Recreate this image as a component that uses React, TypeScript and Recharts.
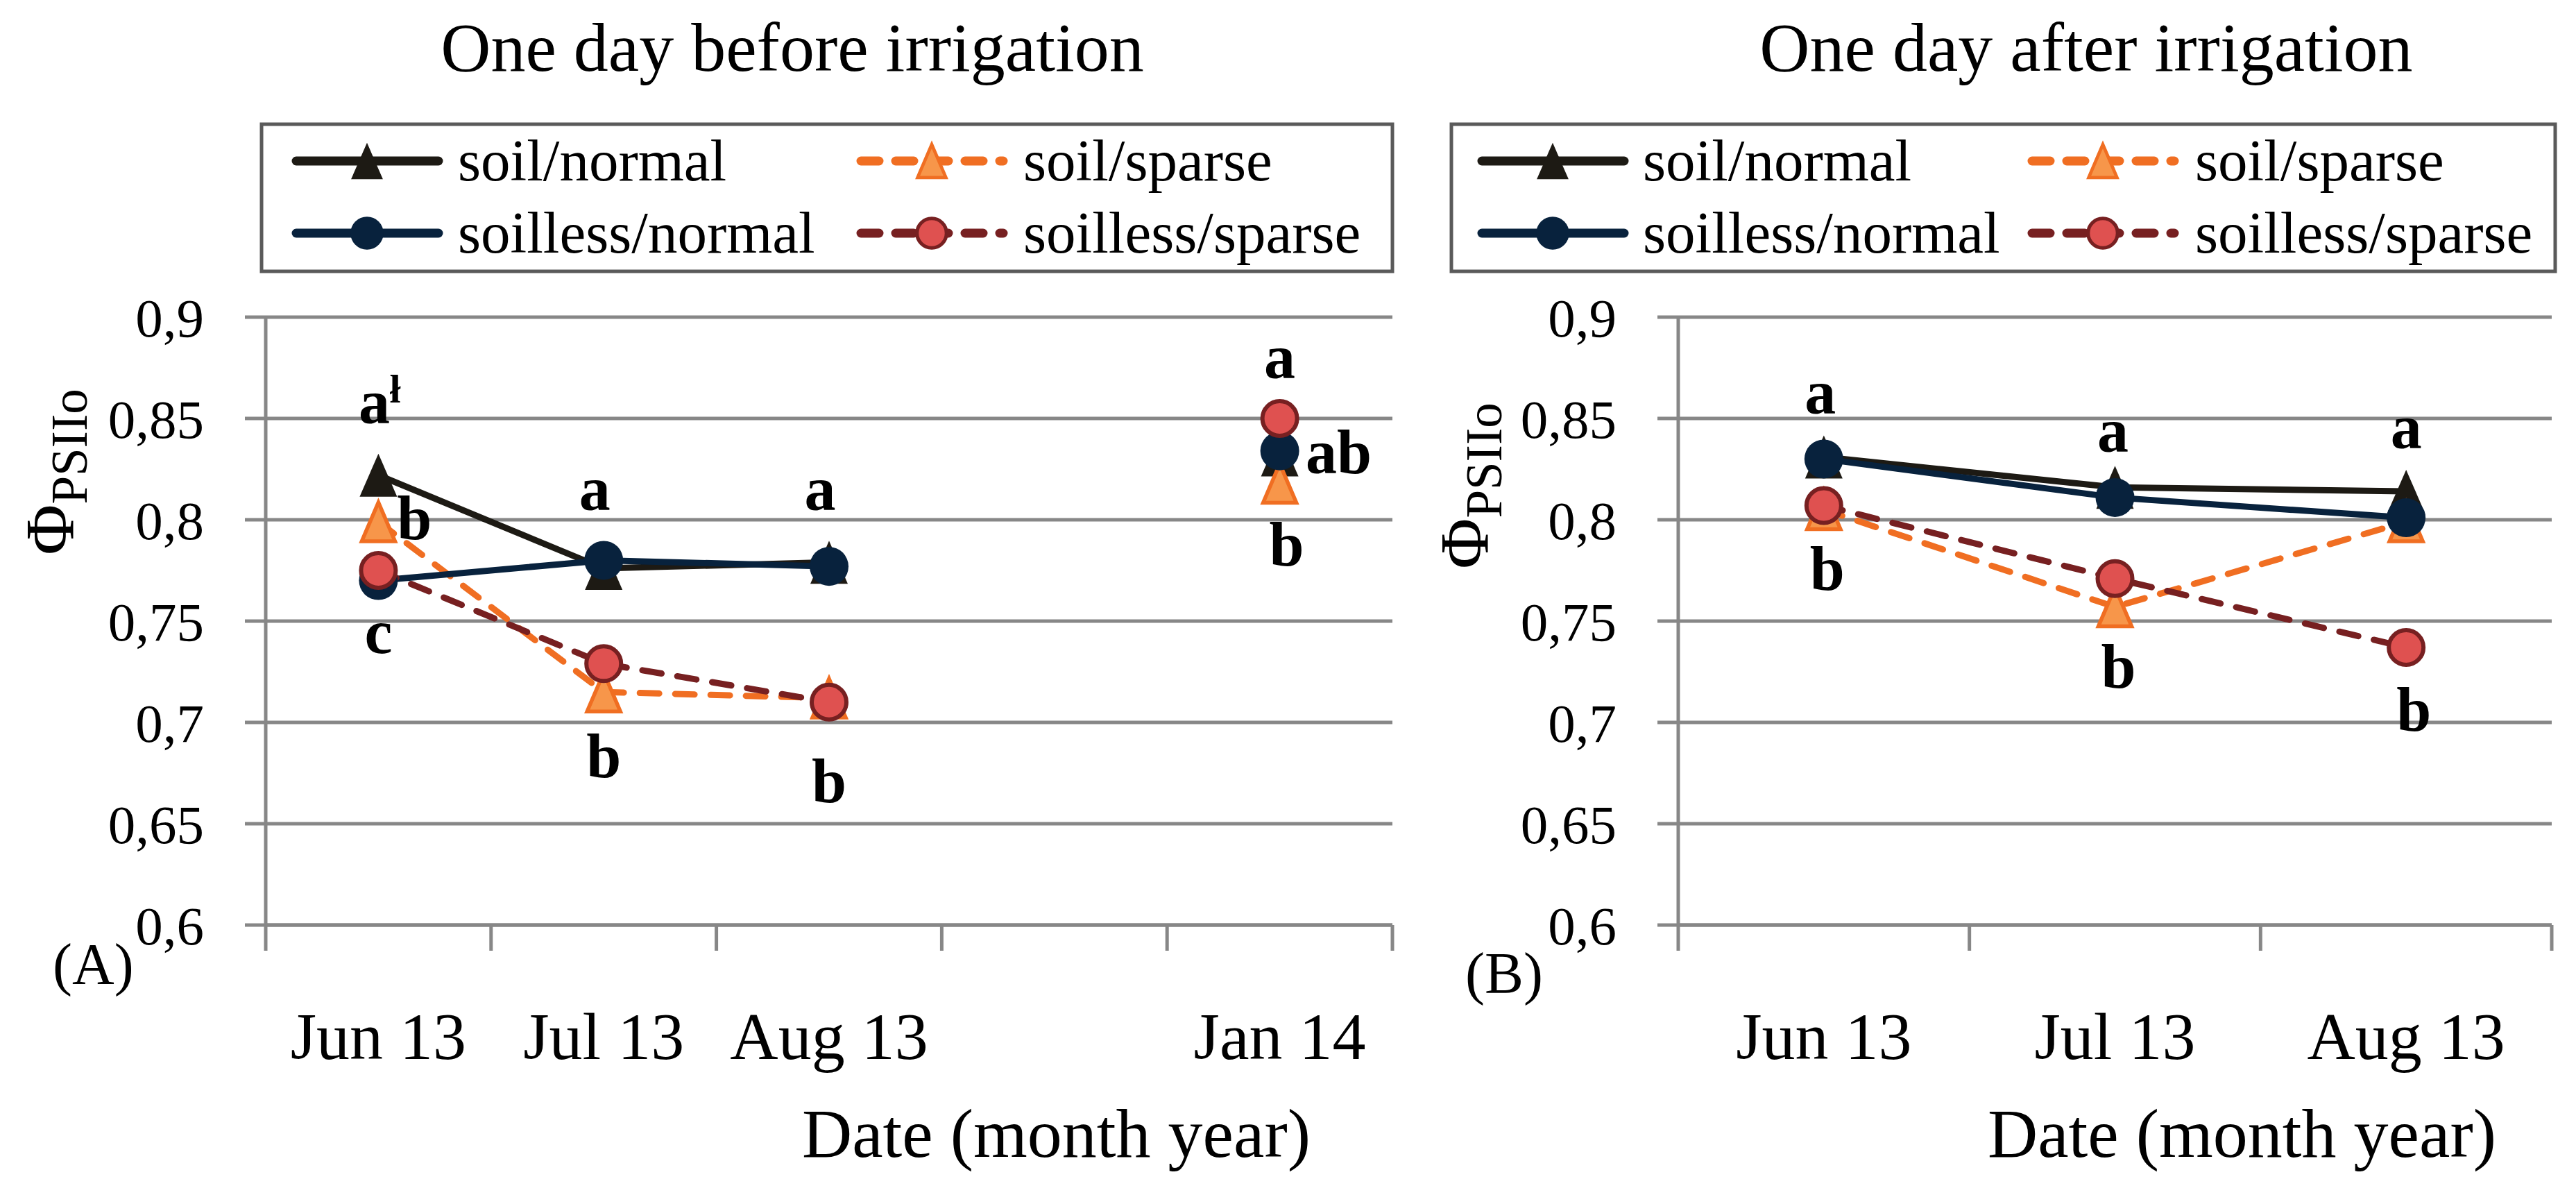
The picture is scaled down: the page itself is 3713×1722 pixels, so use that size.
import React from "react";
import { LineChart, Line, XAxis, YAxis, CartesianGrid, LabelList } from "recharts";

const FONT = '"Liberation Serif", "Times New Roman", serif';

// date axis; the blank slot keeps the gap before Jan 14
const beforeDates = ["Jun 13", "Jul 13", "Aug 13", "", "Jan 14"];
const afterDates = ["Jun 13", "Jul 13", "Aug 13"];

const beforeSoilNormal = [0.822, 0.776, 0.779, null, 0.832];
const beforeSoilSparse = [0.799, 0.715, 0.712, null, 0.818];
const beforeSoillessNormal = [0.77, 0.78, 0.777, null, 0.834];
const beforeSoillessSparse = [0.775, 0.729, 0.71, null, 0.85];

const afterSoilNormal = [0.831, 0.816, 0.814];
const afterSoilSparse = [0.805, 0.757, 0.799];
const afterSoillessNormal = [0.83, 0.811, 0.801];
const afterSoillessSparse = [0.807, 0.771, 0.737];

const yTicks = [0.6, 0.65, 0.7, 0.75, 0.8, 0.85, 0.9];

// significance letters ("|" splits off the footnote mark)
const beforeLetters = {
  soilNormal: ["a|ł", "a", "a", null, null],
  soilSparse: ["b", "b", "b", null, "b"],
  soillessNormal: ["c", null, null, null, "ab"],
  soillessSparse: [null, null, null, null, "a"],
};
const afterLetters = {
  soilNormal: ["a", "a", "a"],
  soilSparse: ["b", "b", null],
  soillessNormal: [null, null, null],
  soillessSparse: [null, null, "b"],
};

// where each letter sits relative to its point: [dx, baseline dy]
const beforeLetterPos = {
  soilNormal: [[-6, -75], [-13, -84], [-13, -75], null, null],
  soilSparse: [[52, 25], [0, 123], [0, 150], null, [10, 119]],
  soillessNormal: [[0, 104], null, null, null, [85, 32]],
  soillessSparse: [null, null, null, null, [0, -58]],
};
const afterLetterPos = {
  soilNormal: [[-5, -62], [-3, -51], [0, -62]],
  soilSparse: [[5, 116], [5, 116], null],
  soillessNormal: [null, null, null],
  soillessSparse: [null, null, [11, 120]],
};

type Key = "soilNormal" | "soilSparse" | "soillessNormal" | "soillessSparse";

const series: {
  key: Key;
  name: string;
  color: string;
  fill: string;
  dashed: boolean;
  shape: "triangle" | "circle";
}[] = [
  { key: "soilNormal", name: "soil/normal", color: "#1d1a14", fill: "#1d1a14", dashed: false, shape: "triangle" },
  { key: "soilSparse", name: "soil/sparse", color: "#f06e22", fill: "#f7964a", dashed: true, shape: "triangle" },
  { key: "soillessNormal", name: "soilless/normal", color: "#08223d", fill: "#08223d", dashed: false, shape: "circle" },
  { key: "soillessSparse", name: "soilless/sparse", color: "#772021", fill: "#df5150", dashed: true, shape: "circle" },
];

const H = 1722;
const PLOT_TOP = 457;
const PLOT_BOTTOM = 1333;
const GRID = "#878787";
const BORDER = "#5a5a5a";

function Marker({ cx, cy, s, k = 1 }: any) {
  if (cx == null || cy == null) return <g />;
  const outlined = s.dashed;
  if (s.shape === "triangle") {
    const w = (outlined ? 24 : 27) * k;
    const h = (outlined ? 28 : 31) * k;
    return (
      <polygon
        points={`${cx},${cy - h} ${cx + w},${cy + h} ${cx - w},${cy + h}`}
        fill={s.fill}
        stroke={outlined ? s.color : "none"}
        strokeWidth={outlined ? 5.5 * k : 0}
      />
    );
  }
  return (
    <circle
      cx={cx}
      cy={cy}
      r={(outlined ? 25 : 28) * k}
      fill={s.fill}
      stroke={outlined ? s.color : "none"}
      strokeWidth={outlined ? 6 * k : 0}
    />
  );
}

function Letter(props: any) {
  const { texts, offsets } = props;
  const vb = props.viewBox || {};
  const px = props.x ?? vb.x;
  const py = props.y ?? vb.y;
  const idx = props.index ?? (props.payload ? Math.floor(props.payload.x) : -1);
  const text = texts[idx];
  const off = offsets[idx];
  if (text == null || off == null || px == null || py == null) return null;
  const [main, sup] = text.split("|");
  const tx = px + off[0];
  const ty = py + off[1];
  return (
    <g>
      <text x={tx} y={ty} textAnchor="middle" fontSize={90} fontWeight="bold" fontFamily={FONT} fill="#000">
        {main}
      </text>
      {sup && (
        <text x={tx + 22} y={ty - 30} fontSize={58} fontWeight="bold" fontFamily={FONT} fill="#000">
          {sup}
        </text>
      )}
    </g>
  );
}

function DateTick(props: any) {
  const { x, index, labels, band } = props;
  if (index >= labels.length) return <g />;
  return (
    <text x={x + band / 2} y={PLOT_BOTTOM + 193} textAnchor="middle" fontSize={96} fontFamily={FONT} fill="#000">
      {labels[index]}
    </text>
  );
}

function Panel({ layout, title, tag, dates, values, letters, letterPos }: any) {
  const n = dates.length;
  const rows = dates.map((d: string, i: number) => ({
    x: i + 0.5,
    date: d,
    soilNormal: values.soilNormal[i],
    soilSparse: values.soilSparse[i],
    soillessNormal: values.soillessNormal[i],
    soillessSparse: values.soillessSparse[i],
  }));
  const bounds = Array.from({ length: n + 1 }, (_, i) => i);
  const band = (layout.plotRight - layout.plotLeft) / n;
  const rowY = [232, 336];

  return (
    <div style={{ position: "absolute", left: layout.left, top: 0, width: layout.width, height: H }}>
      <svg
        width={layout.width}
        height={H}
        style={{ position: "absolute", left: 0, top: 0, overflow: "visible" }}
      >
        <text x={layout.titleX} y={102} textAnchor="middle" fontSize={100} fontFamily={FONT} fill="#000">
          {title}
        </text>
        <rect
          x={layout.legendX}
          y={179}
          width={layout.legendW}
          height={212}
          fill="#fff"
          stroke={BORDER}
          strokeWidth={5}
        />
        {series.map((s, i) => {
          const col = i % 2 === 0 ? layout.col1 : layout.col2;
          const txt = i % 2 === 0 ? layout.text1 : layout.text2;
          const ly = rowY[Math.floor(i / 2)];
          const x0 = layout.legendX + col;
          return (
            <g key={s.key}>
              <line
                x1={x0 + 6}
                x2={x0 + 211}
                y1={ly}
                y2={ly}
                stroke={s.color}
                strokeWidth={13}
                strokeLinecap="round"
                strokeDasharray={s.dashed ? "26 24" : undefined}
              />
              <Marker cx={x0 + 108} cy={ly} s={s} k={0.85} />
              <text x={layout.legendX + txt} y={ly + 28} fontSize={85} fontFamily={FONT} fill="#000">
                {s.name}
              </text>
            </g>
          );
        })}
        <text
          x={layout.phiX}
          y={layout.phiY}
          textAnchor="middle"
          transform={`rotate(-90, ${layout.phiX}, ${layout.phiY})`}
          fontFamily={FONT}
          fill="#000"
        >
          <tspan fontSize={100}>Φ</tspan>
          <tspan fontSize={73} dy={20}>PSIIo</tspan>
        </text>
        <text x={layout.tagX} y={layout.tagY} fontSize={84} fontFamily={FONT} fill="#000">
          {tag}
        </text>
        <text x={layout.axisTitleX} y={1667} textAnchor="end" fontSize={100} fontFamily={FONT} fill="#000">
          Date (month year)
        </text>
      </svg>

      <div style={{ position: "absolute", left: 0, top: 0 }}>
        <LineChart
          width={layout.width}
          height={H}
          data={rows}
          margin={{ top: PLOT_TOP, right: layout.width - layout.plotRight, bottom: 0, left: 0 }}
        >
          <CartesianGrid vertical={false} stroke={GRID} strokeWidth={5} />
          <XAxis
            dataKey="x"
            type="number"
            domain={[0, n]}
            ticks={bounds}
            interval={0}
            height={H - PLOT_BOTTOM}
            tickSize={37}
            tickLine={{ stroke: GRID, strokeWidth: 5 }}
            axisLine={{ stroke: GRID, strokeWidth: 5 }}
            tick={(p: any) => <DateTick {...p} labels={dates} band={band} />}
          />
          <XAxis
            xAxisId="top"
            orientation="top"
            dataKey="x"
            type="number"
            domain={[0, n]}
            height={0}
            tick={false}
            tickLine={false}
            axisLine={{ stroke: BORDER, strokeWidth: 5 }}
          />
          <YAxis
            type="number"
            domain={[0.6, 0.9]}
            ticks={yTicks}
            interval={0}
            width={layout.plotLeft}
            tickSize={30}
            tickMargin={59}
            tickFormatter={(v: number) => String(v).replace(".", ",")}
            tick={{ fill: "#000", fontSize: 79, fontFamily: FONT }}
            tickLine={{ stroke: GRID, strokeWidth: 5 }}
            axisLine={{ stroke: GRID, strokeWidth: 5 }}
          />
          <YAxis
            yAxisId="border"
            orientation="right"
            type="number"
            domain={[0.6, 0.9]}
            width={0}
            tick={false}
            tickLine={false}
            axisLine={{ stroke: BORDER, strokeWidth: 5 }}
          />
          {series.map((s) => (
            <Line
              key={s.key}
              dataKey={s.key}
              name={s.name}
              type="linear"
              stroke={s.color}
              strokeWidth={9}
              strokeDasharray={s.dashed ? "28 23" : undefined}
              strokeLinecap={s.dashed ? "round" : "butt"}
              connectNulls={false}
              isAnimationActive={false}
              activeDot={false}
              dot={(p: any) => <Marker key={`${s.key}-${p.index}`} cx={p.cx} cy={p.cy} s={s} />}
            >
              <LabelList
                dataKey={s.key}
                content={(p: any) => <Letter {...p} texts={letters[s.key]} offsets={letterPos[s.key]} />}
              />
            </Line>
          ))}
        </LineChart>
      </div>
    </div>
  );
}

const beforeLayout = {
  left: 0, width: 2050, plotLeft: 383, plotRight: 2007, titleX: 1142,
  legendX: 377, legendW: 1630, col1: 44, text1: 283, col2: 858, text2: 1098,
  phiX: 105, phiY: 680, tagX: 76, tagY: 1418, axisTitleX: 1889,
};
const afterLayout = {
  left: 2050, width: 1663, plotLeft: 369, plotRight: 1628, titleX: 957,
  legendX: 42, legendW: 1591, col1: 38, text1: 276, col2: 831, text2: 1072,
  phiX: 94, phiY: 700, tagX: 62, tagY: 1431, axisTitleX: 1548,
};

export default function App() {
  return (
    <div style={{ position: "absolute", left: 0, top: 0, width: 3713, height: H, background: "#fff" }}>
      <Panel
        layout={beforeLayout}
        title="One day before irrigation"
        tag="(A)"
        dates={beforeDates}
        values={{
          soilNormal: beforeSoilNormal,
          soilSparse: beforeSoilSparse,
          soillessNormal: beforeSoillessNormal,
          soillessSparse: beforeSoillessSparse,
        }}
        letters={beforeLetters}
        letterPos={beforeLetterPos}
      />
      <Panel
        layout={afterLayout}
        title="One day after irrigation"
        tag="(B)"
        dates={afterDates}
        values={{
          soilNormal: afterSoilNormal,
          soilSparse: afterSoilSparse,
          soillessNormal: afterSoillessNormal,
          soillessSparse: afterSoillessSparse,
        }}
        letters={afterLetters}
        letterPos={afterLetterPos}
      />
    </div>
  );
}
